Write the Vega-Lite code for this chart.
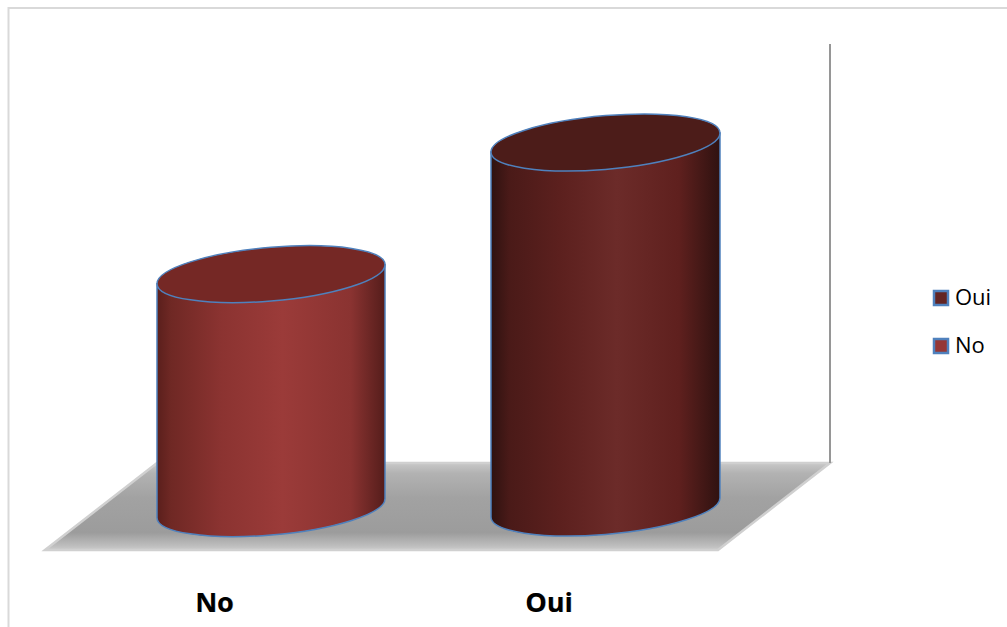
{
  "$schema": "https://vega.github.io/schema/vega-lite/v6.json",
  "width": 1007,
  "height": 627,
  "padding": 0,
  "autosize": {"type": "none"},
  "background": "white",
  "config": {"view": {"stroke": null}},
  "data": {"values": [{"answer": "No", "percent": 39}, {"answer": "Oui", "percent": 61}]},
  "encoding": {
    "x": {"field": "answer", "type": "nominal", "scale": {"type": "point", "padding": 0, "domain": ["No", "Oui"], "range": [271, 605.5]},
      "axis": {"title": null, "orient": "bottom", "offset": -24, "zindex": 1, "domain": false, "ticks": false, "grid": false, "labelAngle": 0, "labelOffset": -57, "labelPadding": 0, "labelBaseline": "middle", "labelFont": "Open Sans", "labelFontWeight": "bold", "labelFontSize": 27, "labelColor": "#000000"}},
    "y": {"field": "percent", "type": "quantitative", "scale": {"domain": [0, 61], "range": [507.5, 142.5], "nice": false, "zero": false}, "axis": null}
  },
  "layer": [
    {
      "transform": [{"filter": "datum.answer === 'No'"}],
      "mark": {"type": "point", "filled": false, "opacity": 1, "size": 4, "stroke": "#d9d9d9", "strokeWidth": 2, "shape": "M-262.5 119.5 V-499.5 H736"},
      "encoding": {"y": {"datum": 0, "type": "quantitative"}}
    },
    {
      "transform": [{"filter": "datum.answer === 'No'"}],
      "mark": {"type": "point", "filled": true, "opacity": 1, "size": 4, "strokeWidth": 2.5, "stroke": "#d0d0d0",
        "fill": {"gradient": "linear", "x1": 0, "y1": 0, "x2": 0, "y2": 1, "stops": [{"offset": 0, "color": "#c8c8c8"}, {"offset": 0.12, "color": "#b2b2b2"}, {"offset": 0.4, "color": "#a2a2a2"}, {"offset": 0.8, "color": "#9c9c9c"}, {"offset": 0.95, "color": "#bdbdbd"}, {"offset": 1, "color": "#cccccc"}]},
        "shape": "M-226 42.5 L447 42.5 L559 -44.5 L-114 -44.5 Z"},
      "encoding": {"y": {"datum": 0, "type": "quantitative"}}
    },
    {
      "transform": [{"filter": "datum.answer === 'No'"}],
      "mark": {"type": "point", "filled": false, "opacity": 1, "size": 4, "stroke": "#969696", "strokeWidth": 2, "shape": "M559 -44.5 V-463.5"},
      "encoding": {"y": {"datum": 0, "type": "quantitative"}}
    },
    {
      "transform": [{"filter": "datum.answer === 'No'"}],
      "mark": {"type": "point", "filled": true, "opacity": 1, "size": 4, "stroke": "#4f81bd", "strokeWidth": 1.5,
        "fill": {"gradient": "linear", "x1": 0, "y1": 0, "x2": 1, "y2": 0, "stops": [{"offset": 0, "color": "#5a1f1c"}, {"offset": 0.06, "color": "#6f2824"}, {"offset": 0.28, "color": "#8b3331"}, {"offset": 0.55, "color": "#9b3b39"}, {"offset": 0.85, "color": "#8a3331"}, {"offset": 1, "color": "#551d1b"}]},
        "shape": "M-114 9.5 V243.5 A114.4 26.77 -5.04 0 0 114 224.5 V-9.5 Z"}
    },
    {
      "transform": [{"filter": "datum.answer === 'No'"}],
      "mark": {"type": "point", "filled": true, "opacity": 1, "size": 4, "stroke": "#4f81bd", "strokeWidth": 1.5, "fill": "#752825",
        "shape": "M-114 9.5 A114.4 26.77 -5.04 0 1 114 -9.5 A114.4 26.77 -5.04 0 1 -114 9.5 Z"}
    },
    {
      "transform": [{"filter": "datum.answer === 'Oui'"}],
      "mark": {"type": "point", "filled": true, "opacity": 1, "size": 4, "stroke": "#4f81bd", "strokeWidth": 1.5,
        "fill": {"gradient": "linear", "x1": 0, "y1": 0, "x2": 1, "y2": 0, "stops": [{"offset": 0, "color": "#2e1210"}, {"offset": 0.08, "color": "#4a1a18"}, {"offset": 0.3, "color": "#5c201e"}, {"offset": 0.55, "color": "#6c2b29"}, {"offset": 0.82, "color": "#5f201e"}, {"offset": 1, "color": "#2f1210"}]},
        "shape": "M-114.5 9.5 V374.5 A114.9 26.77 -5.04 0 0 114.5 355.5 V-9.5 Z"}
    },
    {
      "transform": [{"filter": "datum.answer === 'Oui'"}],
      "mark": {"type": "point", "filled": true, "opacity": 1, "size": 4, "stroke": "#4f81bd", "strokeWidth": 1.5, "fill": "#4c1c19",
        "shape": "M-114.5 9.5 A114.9 26.77 -5.04 0 1 114.5 -9.5 A114.9 26.77 -5.04 0 1 -114.5 9.5 Z"}
    },
    {
      "mark": {"type": "text", "font": "Open Sans", "fontWeight": "bold", "fontSize": 27, "baseline": "middle", "align": "center", "color": "#8c8c8c", "opacity": 0.7, "dx": -56, "dy": 96.5},
      "encoding": {"y": {"datum": 0, "type": "quantitative"}, "text": {"field": "answer", "type": "nominal"}}
    },
    {
      "mark": {"type": "point", "filled": true, "opacity": 1, "size": 0},
      "encoding": {
        "color": {"field": "answer", "type": "nominal", "scale": {"domain": ["Oui", "No"], "range": ["#632523", "#953735"]},
          "legend": {"title": null, "orient": "none", "legendX": 930, "legendY": 287, "symbolType": "square", "symbolSize": 196, "symbolStrokeColor": "#4f81bd", "symbolStrokeWidth": 2.5, "symbolOpacity": 1, "labelFont": "Open Sans", "labelFontSize": 22, "labelColor": "#000000", "rowPadding": 24, "labelOffset": 3, "padding": 0}}
      }
    }
  ]
}
